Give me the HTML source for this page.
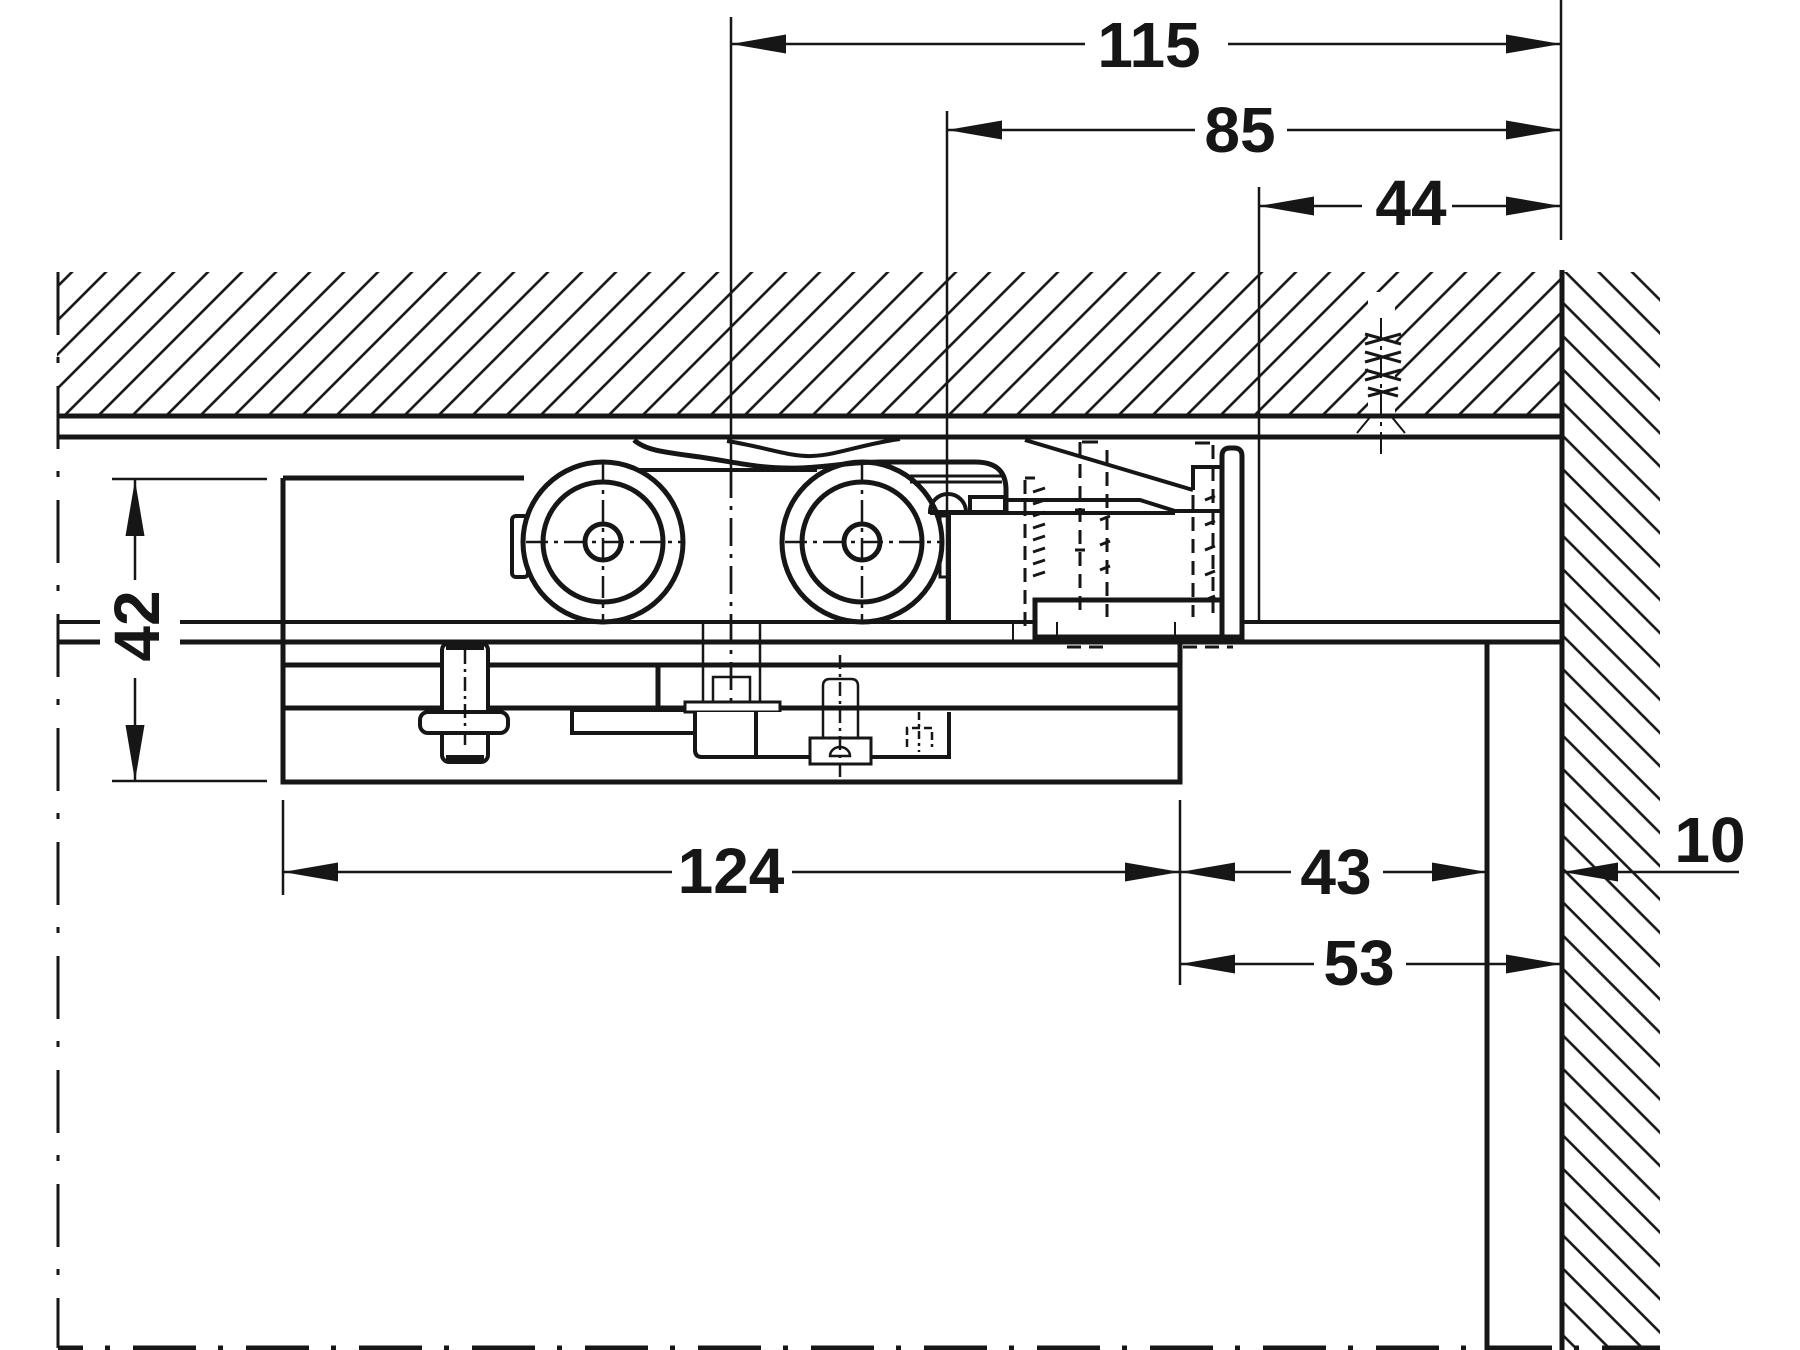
<!DOCTYPE html>
<html><head><meta charset="utf-8"><style>
html,body{margin:0;padding:0;background:#fff;}
svg{display:block;}
text{font-family:"Liberation Sans",Arial,sans-serif;font-weight:bold;font-size:64px;fill:#161616;}
</style></head><body>
<svg width="1800" height="1350" viewBox="0 0 1800 1350" xmlns="http://www.w3.org/2000/svg">
<defs>
<pattern id="h1" patternUnits="userSpaceOnUse" width="24.04" height="24.04" patternTransform="rotate(45)">
<line x1="2.83" y1="-5" x2="2.83" y2="30" stroke="#161616" stroke-width="2.6"/>
</pattern>
<pattern id="h2" patternUnits="userSpaceOnUse" width="23.55" height="23.55" patternTransform="rotate(-45)">
<line x1="19.7" y1="-5" x2="19.7" y2="30" stroke="#161616" stroke-width="2.6"/>
</pattern>
</defs>
<rect width="1800" height="1350" fill="#fff"/>

<!-- ceiling hatch -->
<rect x="57" y="272" width="1504" height="144" fill="url(#h1)"/>
<!-- wall hatch -->
<rect x="1563" y="272" width="97" height="1078" fill="url(#h2)"/>

<g stroke="#161616" fill="none" stroke-linecap="butt">
<!-- screw area in ceiling -->
<rect x="1368" y="292" width="27" height="122" fill="#fff" stroke="none"/>
<line x1="1381" y1="318" x2="1381" y2="455" stroke-width="2" stroke-dasharray="22 6 4 6"/>
<path d="M1365,334 L1401,344 M1365,344 L1401,334 M1365,352 L1401,362 M1365,362 L1401,352 M1365,370 L1401,380 M1365,380 L1401,370 M1368,388 L1398,396 M1368,396 L1398,388" stroke-width="3"/>
<path d="M1357,433 L1371,416 M1405,433 L1391,416" stroke-width="2"/>

<!-- ceiling lines -->
<line x1="57" y1="416" x2="1562" y2="416" stroke-width="5"/>
<line x1="57" y1="437" x2="1562" y2="437" stroke-width="5"/>
<!-- wall line -->
<line x1="1562" y1="270" x2="1562" y2="1350" stroke-width="5"/>
<!-- left dash-dot -->
<line x1="58" y1="272" x2="58" y2="1300" stroke-width="3" stroke-dasharray="63 22 6 23"/>
<line x1="58" y1="1300" x2="58" y2="1348" stroke-width="3"/>
<!-- bottom cut line -->
<line x1="58" y1="1348" x2="1660" y2="1348" stroke-width="5" stroke-dasharray="63 22 5 23" stroke-dashoffset="38"/>
<!-- door edge -->
<line x1="1487" y1="641" x2="1487" y2="1350" stroke-width="5"/>

<!-- long horizontal lines -->
<path d="M57,622 L100,622 M180,622 L1035,622 M1242,622 L1562,622" stroke-width="4"/>
<path d="M57,642 L100,642 M180,642 L1562,642" stroke-width="5"/>

<!-- extension lines top -->
<line x1="731" y1="17" x2="731" y2="470" stroke-width="2.5"/>
<line x1="731" y1="470" x2="731" y2="725" stroke-width="2.5" stroke-dasharray="28 8 4 8"/>
<line x1="947" y1="111" x2="947" y2="622" stroke-width="2.5"/>
<line x1="1259" y1="187" x2="1259" y2="622" stroke-width="2.5"/>
<line x1="1561" y1="0" x2="1561" y2="240" stroke-width="2.5"/>

<!-- dim lines top -->
<path d="M731,44 L1085,44 M1228,44 L1561,44" stroke-width="2.5"/>
<path d="M947,130 L1195,130 M1287,130 L1561,130" stroke-width="2.5"/>
<path d="M1259,206 L1362,206 M1452,206 L1561,206" stroke-width="2.5"/>

<!-- 42 dim -->
<path d="M112,479 L267,479 M112,781 L267,781" stroke-width="2.5"/>
<path d="M135,480 L135,580 M135,678 L135,781" stroke-width="2.5"/>

<!-- bottom dims -->
<path d="M283,800 L283,895 M1180,800 L1180,985" stroke-width="2.5"/>
<path d="M283,872 L672,872 M792,872 L1180,872" stroke-width="2.5"/>
<path d="M1180,872 L1291,872 M1383,872 L1487,872" stroke-width="2.5"/>
<path d="M1180,964 L1314,964 M1406,964 L1561,964" stroke-width="2.5"/>
<path d="M1563,872 L1739,872" stroke-width="2.5"/>

<!-- carriage upper body -->
<path d="M283,478 L283,782" stroke-width="5"/>
<path d="M283,478 L524,478" stroke-width="5"/>
<rect x="512" y="516" width="16" height="61" rx="4" stroke-width="4"/>
<rect x="940" y="516" width="9" height="61" stroke-width="3"/>
<circle cx="603" cy="542" r="80" stroke-width="5" fill="#fff"/>
<circle cx="603" cy="542" r="60" stroke-width="5"/>
<circle cx="603" cy="542" r="18" stroke-width="5"/>
<circle cx="862" cy="542" r="80" stroke-width="5" fill="#fff"/>
<circle cx="862" cy="542" r="60" stroke-width="5"/>
<circle cx="862" cy="542" r="18" stroke-width="5"/>
<g stroke-width="2.5" stroke-dasharray="22 6 4 6">
<line x1="526" y1="542" x2="682" y2="542"/>
<line x1="603" y1="462" x2="603" y2="622"/>
<line x1="785" y1="542" x2="941" y2="542"/>
<line x1="862" y1="462" x2="862" y2="622"/>
</g>
<line x1="731" y1="470" x2="731" y2="725" stroke-width="2.5" stroke-dasharray="28 8 4 8"/>
<line x1="638" y1="470" x2="817" y2="470" stroke-width="4"/>
<!-- arm -->
<path d="M634,440 C645,450 662,452 700,457 C740,463 760,469 800,468 C830,467 850,462 880,462 L975,462 C997,462 1006,472 1006,490 L1006,513" stroke-width="5"/>
<path d="M727,441 C765,447 790,457 812,456 C838,455 862,444 900,439" stroke-width="4"/>
<path d="M910,476 L1002,476 M910,482 L1002,482" stroke-width="3"/>
<path d="M930,512 A18,18 0 0 1 966,512 Z" stroke-width="4"/>
<rect x="970" y="497" width="35" height="15" stroke-width="4"/>
<path d="M930,513 L1175,513" stroke-width="4"/>
<path d="M1005,500 L1140,500 L1175,511 L1222,511" stroke-width="4"/>
<line x1="949" y1="513" x2="949" y2="622" stroke-width="4"/>
<!-- bracket -->
<path d="M1025,440 L1193,490" stroke-width="4"/>
<path d="M1193,490 L1193,467 L1222,467" stroke-width="4"/>
<path d="M1222,637 L1222,456 Q1222,448 1230,448 L1234,448 Q1242,448 1242,456 L1242,640" stroke-width="5"/>
<path d="M1222,600 L1035,600 L1035,637 L1244,637" stroke-width="5"/>
<g stroke-width="3" stroke-dasharray="14 8">
<line x1="1025" y1="480" x2="1025" y2="633"/>
<line x1="1080" y1="442" x2="1080" y2="617"/>
<line x1="1107" y1="450" x2="1107" y2="617"/>
<line x1="1193" y1="495" x2="1193" y2="617"/>
<line x1="1213" y1="445" x2="1213" y2="617"/>
<line x1="1067" y1="647" x2="1110" y2="647"/>
<line x1="1183" y1="647" x2="1233" y2="647"/>
</g>
<path d="M1033,492 L1045,488 M1033,504 L1045,500 M1033,516 L1045,512 M1033,528 L1045,524 M1033,540 L1045,536 M1033,552 L1045,548 M1033,564 L1045,560 M1033,576 L1045,572" stroke-width="3"/>
<path d="M1100,520 L1110,516 M1100,545 L1110,541 M1100,570 L1110,566 M1205,500 L1215,496 M1205,525 L1215,521 M1205,550 L1215,546 M1205,575 L1215,571 M1205,600 L1215,596 M1082,442 L1098,442 M1195,443 L1210,443 M1025,478 L1035,478 M1075,510 L1085,510 M1075,550 L1085,550" stroke-width="3"/>
<path d="M1013,622 L1013,641 M1057,622 L1057,641 M1175,622 L1175,641" stroke-width="2"/>

<!-- lower box -->
<rect x="283" y="642" width="897" height="140" stroke-width="5"/>
<line x1="283" y1="665" x2="1180" y2="665" stroke-width="5"/>
<line x1="283" y1="708" x2="1180" y2="708" stroke-width="5"/>
<line x1="658" y1="665" x2="658" y2="708" stroke-width="5"/>
<!-- bolt -->
<rect x="442" y="643" width="46" height="119" rx="7" stroke-width="4" fill="#fff"/>
<path d="M446,647 L484,647 M446,758 L484,758" stroke-width="6"/>
<rect x="420" y="712" width="88" height="21" rx="8" stroke-width="4" fill="#fff"/>
<line x1="465" y1="650" x2="465" y2="748" stroke-width="2.5" stroke-dasharray="14 5 3 5"/>
<!-- plate -->
<rect x="572" y="710" width="123" height="23" stroke-width="4" fill="#fff"/>
<!-- shaft -->
<path d="M703,622 L703,708 M760,622 L760,708" stroke-width="2.5"/>
<rect x="713" y="677" width="37" height="30" stroke-width="2.5"/>
<rect x="685" y="702" width="95" height="10" stroke-width="3" fill="#fff"/>
<path d="M695,712 L695,750 Q695,757 702,757 L949,757 L949,712" stroke-width="4" fill="#fff"/>
<line x1="756" y1="712" x2="756" y2="757" stroke-width="4"/>
<path d="M823,740 L823,686 Q823,679 830,679 L851,679 Q858,679 858,686 L858,740" stroke-width="2.5"/>
<rect x="810" y="738" width="61" height="26" stroke-width="3" fill="#fff"/>
<path d="M830,756 A10,9 0 0 1 850,756 Z" stroke-width="2.5"/>
<line x1="840" y1="655" x2="840" y2="783" stroke-width="2.5" stroke-dasharray="14 5 3 5"/>
<path d="M907,747 L907,728 L932,728 L932,747" stroke-width="2.5" stroke-dasharray="8 4"/>
<line x1="919" y1="712" x2="919" y2="752" stroke-width="2.5" stroke-dasharray="8 4 3 4"/>
</g>

<!-- arrowheads -->
<g fill="#161616">
<polygon points="731,44 786,34.5 786,53.5"/>
<polygon points="1561,44 1506,34.5 1506,53.5"/>
<polygon points="947,130 1002,120.5 1002,139.5"/>
<polygon points="1561,130 1506,120.5 1506,139.5"/>
<polygon points="1259,206 1314,196.5 1314,215.5"/>
<polygon points="1561,206 1506,196.5 1506,215.5"/>
<polygon points="135,480 125.5,536 144.5,536"/>
<polygon points="135,781 125.5,725 144.5,725"/>
<polygon points="283,872 338,862.5 338,881.5"/>
<polygon points="1180,872 1125,862.5 1125,881.5"/>
<polygon points="1180,872 1235,862.5 1235,881.5"/>
<polygon points="1487,872 1432,862.5 1432,881.5"/>
<polygon points="1180,964 1235,954.5 1235,973.5"/>
<polygon points="1561,964 1506,954.5 1506,973.5"/>
<polygon points="1563,872 1618,862.5 1618,881.5"/>
</g>

<!-- labels -->
<text x="1149" y="67" text-anchor="middle">115</text>
<text x="1240" y="152" text-anchor="middle">85</text>
<text x="1411" y="225" text-anchor="middle">44</text>
<text x="731" y="893" text-anchor="middle">124</text>
<text x="1336" y="894" text-anchor="middle">43</text>
<text x="1359" y="985" text-anchor="middle">53</text>
<text x="1710" y="862" text-anchor="middle">10</text>
<text transform="translate(159,626) rotate(-90)" x="0" y="0" text-anchor="middle">42</text>
</svg>
</body></html>
